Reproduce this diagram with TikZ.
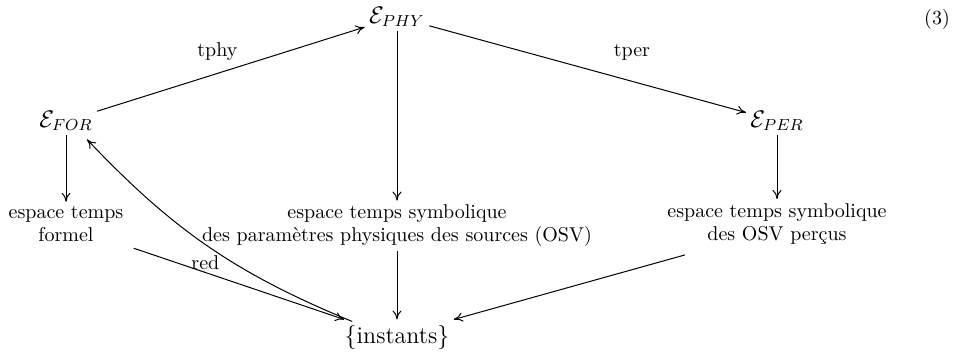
\documentclass[tikz,border=0pt]{standalone}
\usetikzlibrary{arrows.meta}
\begin{document}
\begin{tikzpicture}[x=0.5pt,y=-0.5pt,
  >={Computer Modern Rightarrow[length=4.5pt,width=4.5pt]},
  every path/.style={line width=0.5pt},
  every node/.style={font=\fontsize{10}{11.5}\selectfont},
  lab/.style={inner sep=0pt},
  ent/.style={inner sep=2pt,font=\fontsize{12}{14}\selectfont},
  txt/.style={inner sep=2pt,align=center}]
\useasboundingbox (0,0) rectangle (953,356);
\node[ent] (phy) at (397,17) {$\mathcal{E}_{PHY}$};
\node[ent] (for) at (66,121) {$\mathcal{E}_{FOR}$};
\node[ent] (per) at (777,121) {$\mathcal{E}_{PER}$};
\node[txt] (tfor) at (66,224) {espace temps\\formel};
\node[txt] (tphy) at (397,226) {espace temps symbolique\\des paramètres physiques des sources (OSV)};
\node[txt] (tper) at (777,224) {espace temps symbolique\\des OSV perçus};
\node[ent,inner sep=3pt] (inst) at (397,338) {\{instants\}};
\node[lab] (eq) at (937,20) {(3)};
\draw[->] (for) -- node[lab,pos=0.45,above=6pt] {tphy} (phy);
\draw[->] (phy) -- node[lab,pos=0.64,above=10pt] {tper} (per);
\draw[->] (phy) -- (tphy);
\draw[->] (for) -- (tfor);
\draw[->] (per) -- (tper);
\draw[->] ([xshift=3pt,yshift=-1pt]tfor.south east) -- node[lab,pos=0.34,above=1pt] {red} ([xshift=3pt]inst.north west);
\draw[->] ([xshift=7pt,yshift=-1pt]inst.north west) to[bend left=12] ([xshift=-5pt,yshift=-2pt]for.south east);
\draw[->] (tphy) -- (inst);
\draw[->] ([xshift=11pt,yshift=-3pt]tper.south west) -- ([xshift=-1pt]inst.north east);
\end{tikzpicture}
\end{document}
